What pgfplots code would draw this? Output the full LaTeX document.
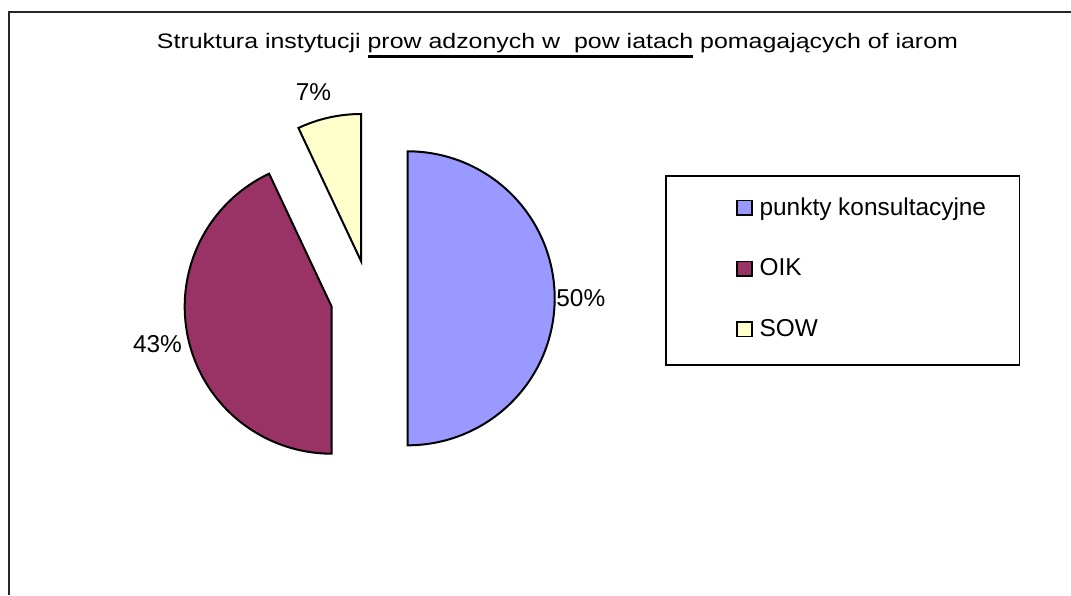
\documentclass[border=0pt]{standalone}
\usepackage{pgfplots}
\pgfplotsset{compat=1.18}
\usepackage{fontspec}
\setmainfont{Liberation Sans}
\definecolor{cA}{HTML}{9999FF}
\definecolor{cB}{HTML}{993366}
\definecolor{cC}{HTML}{FFFFCC}
\newcommand\ul[1]{\setbox0\hbox{#1}\rlap{\rule[-4.6pt]{\wd0}{1.1pt}}\box0\relax}
% values (percent)
\def\vA{50}
\def\vB{43}
\def\vC{7}
\begin{document}
\begin{tikzpicture}
\pgfmathsetmacro{\aA}{90-3.6*\vA}
\pgfmathsetmacro{\aB}{\aA-3.6*\vB}
\pgfmathsetmacro{\aC}{\aB-3.6*\vC}
\begin{axis}[
 width=535.5pt, height=297.5pt, scale only axis,
 xmin=0, xmax=1071, ymin=0, ymax=595, y dir=reverse,
 hide axis, clip=false,
 legend style={at={(axis cs:730,190)}, anchor=north west, draw=none, fill=none,
   font=\fontsize{12.2}{14}\selectfont, row sep=17.3pt, column sep=2pt,
   nodes={inner sep=1.5pt}},
 legend cell align=left,
 legend image code/.code={\draw[#1, line width=0.9pt] (0pt,-3.6pt) rectangle (7.2pt,3.6pt);},
]
\addplot[fill=cA, draw=black, line width=1pt, domain=\aA:90, samples=120, variable=\t]
  ({407.7+147*cos(\t)}, {298.3-147*sin(\t)}) -- (axis cs:407.7,298.3) -- cycle;
\addlegendentry{punkty konsultacyjne}
\addplot[fill=cB, draw=black, line width=1pt, domain=\aB:\aA, samples=120, variable=\t]
  ({331.7+147*cos(\t)}, {306.7-147*sin(\t)}) -- (axis cs:331.7,306.7) -- cycle;
\addlegendentry{OIK}
\addplot[fill=cC, draw=black, line width=1pt, domain=\aC:\aB, samples=40, variable=\t]
  ({361+147*cos(\t)}, {261-147*sin(\t)}) -- (axis cs:361,261) -- cycle;
\addlegendentry{SOW}

\draw[line width=1pt, color=black!85] (axis cs:8.5,595) -- (axis cs:8.5,11.7) -- (axis cs:1071,11.7);
\draw[line width=0.8pt] (axis cs:666,176) rectangle (axis cs:1019.5,365);

\node[anchor=west, inner sep=0pt, font=\fontsize{12.2}{14}\selectfont] at (axis cs:556,298) {50\%};
\node[inner sep=0pt, font=\fontsize{12.2}{14}\selectfont] at (axis cs:157.5,344) {43\%};
\node[inner sep=0pt, font=\fontsize{12.2}{14}\selectfont] at (axis cs:313.5,92) {7\%};
\node[anchor=base, inner sep=0pt] at (axis cs:557.5,48)
  {\resizebox{400.5pt}{7.6pt}{Struktura instytucji \ul{prow adzonych w\ \ pow iatach} pomagających of iarom}};
\end{axis}
\pgfresetboundingbox
\useasboundingbox (current axis.south west) rectangle (current axis.north east);
\end{tikzpicture}
\end{document}
